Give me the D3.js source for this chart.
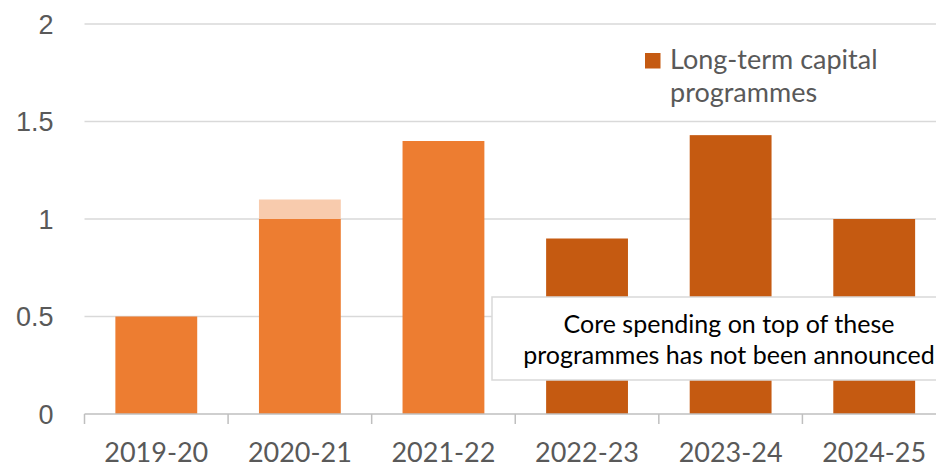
<!DOCTYPE html>
<html>
<head>
<meta charset="utf-8">
<script src="https://cdn.jsdelivr.net/npm/d3@7"></script>
<style>
  body { margin: 0; background: #fff; }
  svg { display: block; font-family: Lato, "Open Sans", sans-serif; }
</style>
</head>
<body>
<svg width="936" height="467"></svg>
<script>
var years = ["2019-20", "2020-21", "2021-22", "2022-23", "2023-24", "2024-25"];
var coreSpend = [0.5, 1.0, 1.4, 0, 0, 0];
var extraSpend = [0, 0.1, 0, 0, 0, 0];
var longTerm = [0, 0, 0, 0.9, 1.43, 1.0];
var yTicks = [0, 0.5, 1, 1.5, 2];
var legendLines = ["Long-term capital", "programmes"];
var noteLines = ["Core spending on top of these", "programmes has not been announced"];

var seriesKeys = ["core", "extra", "longTerm"];
var colors = {core: "#ED7D31", extra: "#F8CBAD", longTerm: "#C55A11"};

var rows = [];
for (let i = 0; i < years.length; i++){
    rows.push({year: years[i], core: coreSpend[i], extra: extraSpend[i], longTerm: longTerm[i]});
}

var svg = d3.select("svg");
var margin = {top: 24, right: -10, bottom: 53, left: 84.5};
var width = +svg.attr("width") - margin.left - margin.right;
var height = +svg.attr("height") - margin.top - margin.bottom;
var g = svg.append("g").attr("transform", "translate(" + margin.left + "," + margin.top + ")");

var x = d3.scaleBand()
    .domain(years)
    .range([0, width])
    .paddingInner(0.43)
    .paddingOuter(0.215);

var y = d3.scaleLinear()
    .domain([0, 2])
    .range([height, 0]);

// gridlines
g.selectAll(".grid")
    .data(yTicks.filter(function(d){ return d > 0; }))
    .enter().append("line")
    .attr("x1", 0)
    .attr("x2", width)
    .attr("y1", function(d){ return y(d); })
    .attr("y2", function(d){ return y(d); })
    .attr("stroke", "#d9d9d9")
    .attr("stroke-width", 1.5);

var stacked = d3.stack().keys(seriesKeys)(rows);

g.selectAll(".layer")
    .data(stacked)
    .enter().append("g")
    .attr("fill", function(d){ return colors[d.key]; })
    .selectAll("rect")
    .data(function(d){ return d; })
    .enter().append("rect")
    .attr("x", function(d){ return x(d.data.year); })
    .attr("width", x.bandwidth())
    .attr("y", function(d){ return y(d[1]); })
    .attr("height", function(d){ return y(d[0]) - y(d[1]); });

// y axis labels
var yAxis = g.append("g")
    .call(d3.axisLeft(y).tickValues(yTicks).tickFormat(d3.format("")).tickSize(0).tickPadding(31));
yAxis.select(".domain").remove();
yAxis.selectAll("text")
    .attr("fill", "#595959")
    .style("font-size", "27px")
    .attr("dy", "0.35em");

// x axis
var step = x.step();
var xAxis = g.append("g").attr("transform", "translate(0," + height + ")");
xAxis.append("line")
    .attr("x1", 0).attr("x2", width)
    .attr("stroke", "#bfbfbf").attr("stroke-width", 1.5);
xAxis.selectAll(".tick")
    .data(d3.range(years.length + 1))
    .enter().append("line")
    .attr("x1", function(d){ return d * step; })
    .attr("x2", function(d){ return d * step; })
    .attr("y1", 0).attr("y2", 10)
    .attr("stroke", "#bfbfbf").attr("stroke-width", 1.5);
xAxis.selectAll(".lab")
    .data(years)
    .enter().append("text")
    .attr("x", function(d){ return x(d) + x.bandwidth() / 2; })
    .attr("y", 48)
    .attr("text-anchor", "middle")
    .attr("fill", "#595959")
    .style("font-size", "27px")
    .text(function(d){ return d; });

// legend
var legend = svg.append("g").attr("transform", "translate(645,53)");
legend.append("rect")
    .attr("width", 15.5).attr("height", 15.5)
    .attr("fill", colors.longTerm);
legend.selectAll("text")
    .data(legendLines)
    .enter().append("text")
    .attr("x", 25)
    .attr("y", function(d, i){ return 15.5 + i * 33; })
    .attr("fill", "#595959")
    .style("font-size", "27px")
    .text(function(d){ return d; });

// note box
var note = svg.append("g");
note.append("rect")
    .attr("x", 492).attr("y", 297)
    .attr("width", 474).attr("height", 83)
    .attr("fill", "#fff")
    .attr("stroke", "#d9d9d9")
    .attr("stroke-width", 1.5);
note.selectAll("text")
    .data(noteLines)
    .enter().append("text")
    .attr("x", 729)
    .attr("y", function(d, i){ return 333 + i * 31; })
    .attr("text-anchor", "middle")
    .attr("fill", "#000")
    .style("font-size", "25px")
    .text(function(d){ return d; });
</script>
</body>
</html>
